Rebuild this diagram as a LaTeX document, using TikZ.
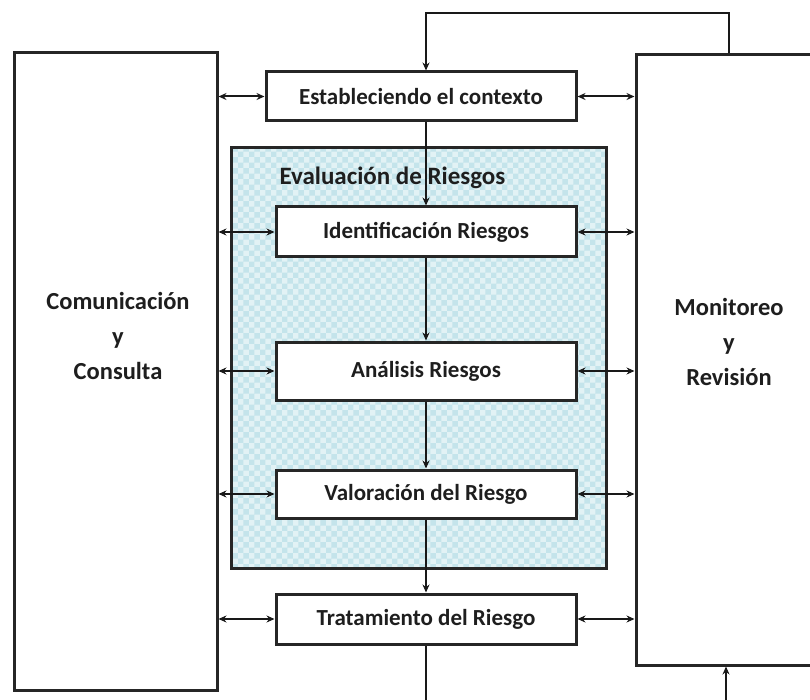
\documentclass[tikz,border=0pt]{standalone}
\usepackage{fontspec}
\setmainfont{Carlito}
\usetikzlibrary{arrows.meta,patterns}
\definecolor{shadebase}{RGB}{226,242,245}
\definecolor{shadedot}{RGB}{196,228,235}
\definecolor{txt}{RGB}{30,30,30}
\tikzset{
  box/.style={draw=black!85,line width=3pt,fill=white,rectangle,inner sep=0pt,
    font=\fontsize{23}{27}\selectfont\bfseries,text=txt},
  bigbox/.style={draw=black!85,line width=3pt,fill=white,rectangle,inner sep=0pt},
  bigtxt/.style={font=\fontsize{24.5}{35}\selectfont\bfseries,text=txt,align=center},
  link/.style={line width=2pt,draw=black!90},
  dbl/.style={link,{Stealth[length=8pt,width=7pt]}-{Stealth[length=8pt,width=7pt]}},
  one/.style={link,-{Stealth[length=8pt,width=7pt]}}
}
\begin{document}
\begin{tikzpicture}[x=1pt,y=-1pt]
\useasboundingbox (0,0) rectangle (810,700);
\clip (0,0) rectangle (810,700);
% side boxes
\node[bigbox,minimum width=203pt,minimum height=637pt] (com) at (115.5,371.5) {};
\node[bigtxt] (comtxt) at (118,336) {Comunicación\\y\\Consulta};
\node[bigbox,minimum width=214pt,minimum height=610pt] (mon) at (743,360) {};
\node[bigtxt] (montxt) at (729,342) {Monitoreo\\y\\Revisión};
% shaded evaluation box
\node[rectangle,inner sep=0pt,minimum width=374pt,minimum height=420pt,
  fill=shadebase,postaction={pattern=checkerboard,pattern color=shadedot}] (eval) at (419,358) {};
\draw[draw=black!85,line width=3pt] (eval.north west) rectangle (eval.south east);
\node[font=\fontsize{25}{29}\selectfont\bfseries,text=txt,anchor=west] (evaltxt) at (276,178) {Evaluación de Riesgos};
% process boxes
\node[box,minimum width=310pt,minimum height=49pt] (est) at (421,96.5) {Estableciendo el contexto};
\node[box,minimum width=300pt,minimum height=50pt] (idf) at (426,232) {Identificación Riesgos};
\node[box,minimum width=300pt,minimum height=58pt] (ana) at (426,371) {Análisis Riesgos};
\node[box,minimum width=300pt,minimum height=48pt] (val) at (426,494) {Valoración del Riesgo};
\node[box,minimum width=300pt,minimum height=50pt] (trat) at (426,619) {Tratamiento del Riesgo};
% loop coordinates
\coordinate (tl) at (426,13);
\coordinate (tr) at (729,13);
\coordinate (bl) at (426,706);
\coordinate (br) at (726,706);
% top feedback
\draw[one] (mon.north -| tr) -- (tr) -- (tl) -- (est.north -| tl);
% bottom feedback
\draw[one] (trat.south -| bl) -- (bl) -- (br) -- (mon.south -| br);
% main flow
\draw[one] (est.south -| tl) -- (idf.north -| tl);
\draw[one] (idf.south -| tl) -- (ana.north -| tl);
\draw[one] (ana.south -| tl) -- (val.north -| tl);
\draw[one] (val.south -| tl) -- (trat.north -| tl);
% side links
\foreach \n in {est,idf,ana,val,trat}{
  \draw[dbl] (com.east |- \n.west) -- (\n.west);
  \draw[dbl] (\n.east) -- (mon.west |- \n.east);
}
\end{tikzpicture}
\end{document}
